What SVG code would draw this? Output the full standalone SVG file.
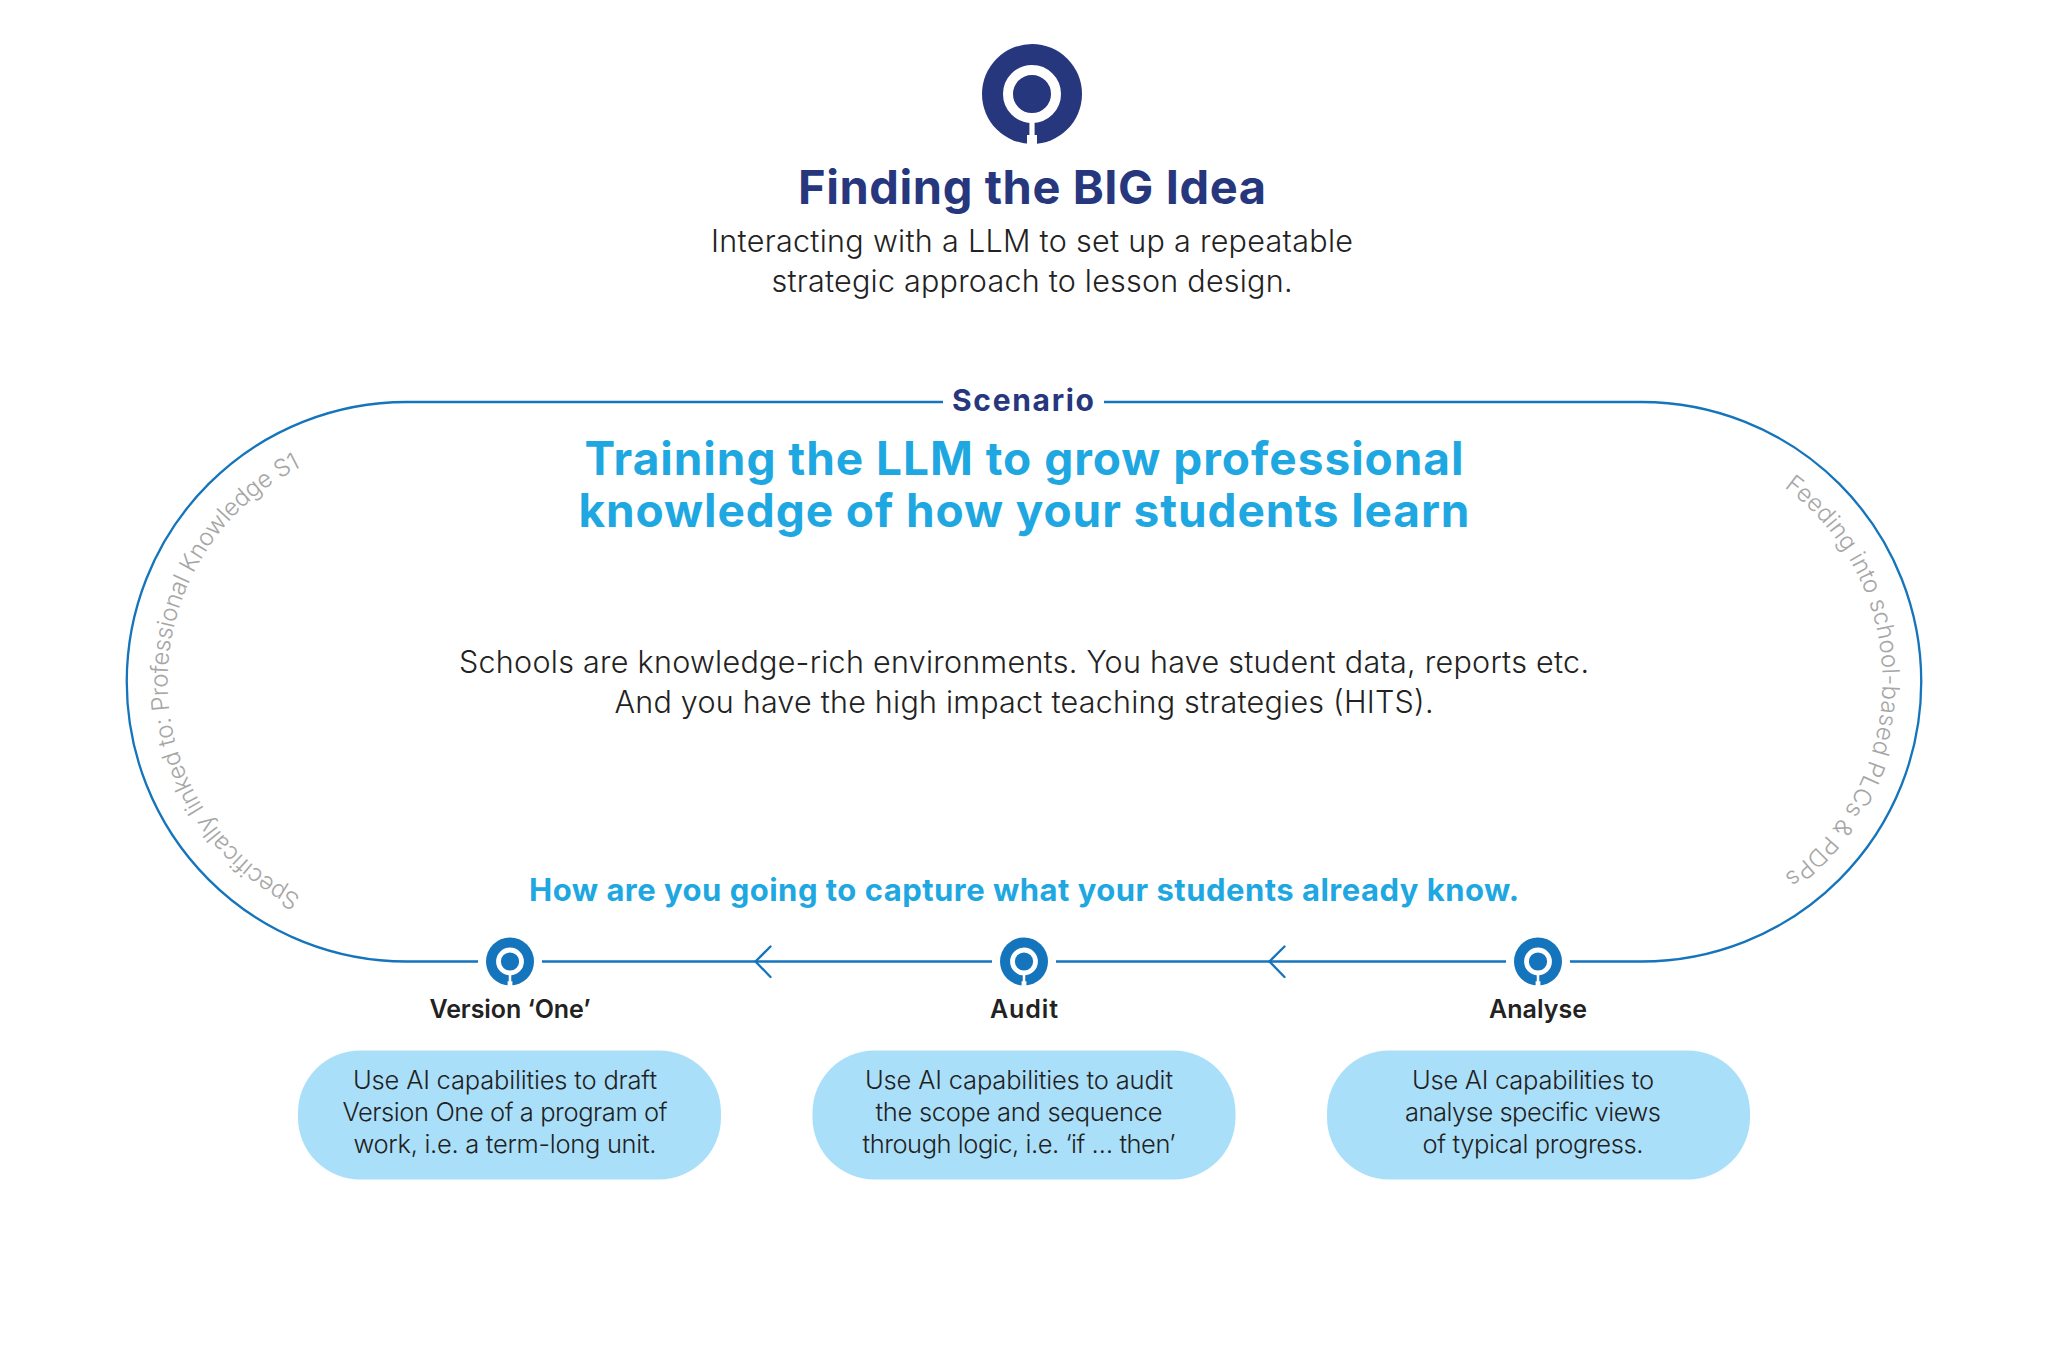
<svg xmlns="http://www.w3.org/2000/svg" width="2048" height="1365" viewBox="0 0 2048 1365">
<style>
text{font-family:Inter,Roboto,"Liberation Sans",sans-serif;text-anchor:middle}
.title{font-size:47px;font-weight:700;fill:#27377d}
.sub{font-size:30.500px;font-weight:300;fill:#222}
.scn{font-size:30px;font-weight:700;fill:#27377d}
.head{font-size:46px;font-weight:700;fill:#1ea7e1}
.ask{font-size:31px;font-weight:700;fill:#1ea7e1}
.lbl{font-size:25px;font-weight:600;fill:#222}
.box{font-size:25.500px;font-weight:300;fill:#222}
.curve{font-size:24px;font-weight:300;fill:#a6a6a6}
.line{fill:none;stroke:#1474bc;stroke-width:2.300}
.pill{fill:#aadffa}
</style>
<defs>
<g id="logo">
<circle r="50"/>
<circle r="24" fill="none" stroke="#fff" stroke-width="10"/>
<path d="M-2.600 24V41H-5V51H5V41H2.600V24Z" fill="#fff"/>
</g>
<path id="leftArc" d="M406.500 920.500A239 239 0 0 1 406.500 442.500"/>
<path id="rightArc" d="M1641.500 440.500A241 241 0 0 1 1641.500 922.500"/>
</defs>
<rect width="2048" height="1365" fill="#fff"/>
<g id="header">
<use href="#logo" x="1032" y="94" fill="#27377d"/>
<text class="title" x="1032" y="204" textLength="468">Finding the BIG Idea</text>
<text class="sub" x="1032" y="252" textLength="642">Interacting with a LLM to set up a repeatable</text>
<text class="sub" x="1032" y="292" textLength="521">strategic approach to lesson design.</text>
</g>
<g id="connectors">
<path class="line" d="M943 402H406.500A279.500 279.500 0 0 0 406.500 961.500H478"/>
<path class="line" d="M1104 402H1641.500A279.500 279.500 0 0 1 1641.500 961.500H1570"/>
<path class="line" d="M992 961.500H542"/>
<path class="line" d="M1506 961.500H1056"/>
<path class="line" stroke-linecap="round" d="M770.500 946.500L755.500 961.500L770.500 977"/>
<path class="line" stroke-linecap="round" d="M1284.500 946.500L1269.500 961.500L1284.500 977"/>
</g>
<g id="scenario">
<text class="scn" x="1023" y="411" textLength="142">Scenario</text>
<text class="head" x="1024" y="475" textLength="879">Training the LLM to grow professional</text>
<text class="head" x="1024" y="527" textLength="891">knowledge of how your students learn</text>
<text class="sub" x="1024" y="673" textLength="1130">Schools are knowledge-rich environments. You have student data, reports etc.</text>
<text class="sub" x="1024" y="713" textLength="819">And you have the high impact teaching strategies (HITS).</text>
<text class="ask" x="1024" y="901" textLength="990">How are you going to capture what your students already know.</text>
</g>
<g id="side-labels">
<text class="curve"><textPath href="#leftArc" startOffset="50%" textLength="532">Specifically linked to: Professional Knowledge S1</textPath></text>
<text class="curve"><textPath href="#rightArc" startOffset="50%" textLength="452">Feeding into school-based PLCs &amp; PDPs</textPath></text>
</g>
<g id="node-version">
<use href="#logo" transform="translate(510 961.500) scale(.48)" fill="#1474bc"/>
<text class="lbl" x="510" y="1018" textLength="161">Version ‘One’</text>
<rect class="pill" x="298" y="1050.500" width="423" height="129" rx="62"/>
<text class="box" x="505" y="1089" textLength="304">Use AI capabilities to draft</text>
<text class="box" x="505" y="1121" textLength="325">Version One of a program of</text>
<text class="box" x="505" y="1153" textLength="303">work, i.e. a term-long unit.</text>
</g>
<g id="node-audit">
<use href="#logo" transform="translate(1024 961.500) scale(.48)" fill="#1474bc"/>
<text class="lbl" x="1024" y="1018" textLength="68">Audit</text>
<rect class="pill" x="812.500" y="1050.500" width="423" height="129" rx="62"/>
<text class="box" x="1019" y="1089" textLength="308">Use AI capabilities to audit</text>
<text class="box" x="1019" y="1121" textLength="287">the scope and sequence</text>
<text class="box" x="1019" y="1153" textLength="313">through logic, i.e. ‘if … then’</text>
</g>
<g id="node-analyse">
<use href="#logo" transform="translate(1538 961.500) scale(.48)" fill="#1474bc"/>
<text class="lbl" x="1538" y="1018" textLength="98">Analyse</text>
<rect class="pill" x="1327" y="1050.500" width="423" height="129" rx="62"/>
<text class="box" x="1533" y="1089" textLength="242">Use AI capabilities to</text>
<text class="box" x="1533" y="1121" textLength="256">analyse specific views</text>
<text class="box" x="1533" y="1153" textLength="221">of typical progress.</text>
</g>
</svg>
